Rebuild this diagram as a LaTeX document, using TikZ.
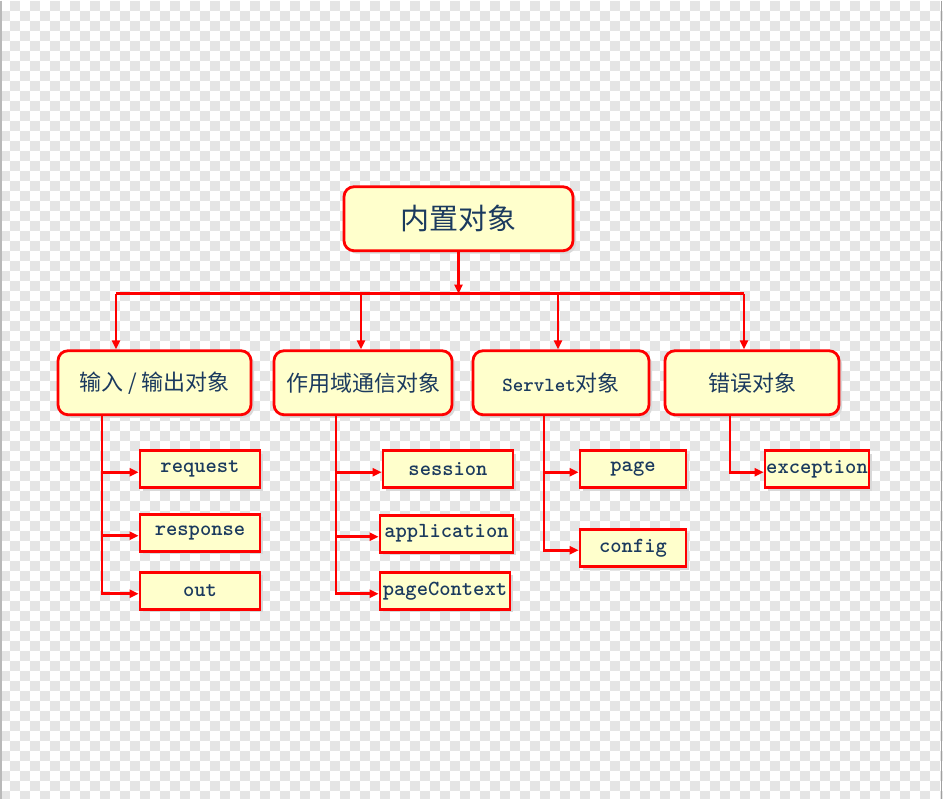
\documentclass[tikz,border=0pt]{standalone}
\usepackage{fontspec}
\newfontfamily\cjk{Noto Sans CJK SC}
\usetikzlibrary{arrows.meta,shadows}
\definecolor{boxfill}{HTML}{FFFFCC}
\definecolor{boxline}{HTML}{FF0000}
\definecolor{ink}{HTML}{1B3A5E}
\definecolor{checker}{HTML}{E5E5E5}

\begin{document}
\begin{tikzpicture}[
    x=1pt, y=-1pt,
    >={Triangle[length=9pt,width=8pt]},
    boxshadow/.style={drop shadow={shadow xshift=3pt, shadow yshift=-3pt, fill=black!15, opacity=1}},
    root/.style={draw=boxline, line width=2.8pt, fill=boxfill, rounded corners=10pt, boxshadow,
                 minimum width=229pt, minimum height=64pt, inner sep=0pt, text=ink,
                 font=\cjk\fontsize{29}{34}\selectfont},
    group/.style={draw=boxline, line width=2.8pt, fill=boxfill, rounded corners=10pt, boxshadow,
                  minimum height=64pt, inner sep=0pt, text=ink,
                  font=\cjk\fontsize{22}{26}\selectfont},
    leaf/.style={draw=boxline, line width=2.8pt, fill=boxfill, boxshadow,
                 minimum height=37pt, inner sep=0pt, text=ink,
                 font=\ttfamily\bfseries\fontsize{21.5}{25}\selectfont},
    wire/.style={draw=boxline, line width=2.6pt},
    link/.style={wire, ->},
    cell/.style={fill=checker, draw=none}
]

% Background
\fill[white] (0,0) rectangle (943,798);
\foreach \yy in {0,20,...,780} {
  \foreach \xx in {10,30,...,930} {\path[cell] (\xx,\yy) rectangle +(10,10);}
}
\foreach \yy in {10,30,...,790} {
  \foreach \xx in {0,20,...,920} {\path[cell] (\xx,\yy) rectangle (\xx+10,{min(\yy+10,798)});}
  \path[cell] (940,\yy) rectangle (943,{min(\yy+10,798)});
}
\draw[gray!55, line width=1.5pt] (0.75,0) -- (0.75,798);
\draw[gray!75, line width=1.5pt] (941.5,0) -- (941.5,798);

% Root and groups
\node[root] (root) at (458.5,218) {内置对象};
\node[group, minimum width=193pt] (inout) at (154.5,382) {输入 / 输出对象};
\node[group, minimum width=178pt] (scope) at (363,382) {作用域通信对象};
\node[group, minimum width=176pt] (servlet) at (561,382) {{\ttfamily\bfseries\fontsize{20}{22}\selectfont Servlet}对象};
\node[group, minimum width=174pt] (error) at (752,382) {错误对象};

% Leaves
\node[leaf, minimum width=120pt] (request) at (200,468.5) {request};
\node[leaf, minimum width=120pt] (response) at (200,532) {response};
\node[leaf, minimum width=120pt] (out) at (200,590) {out};
\node[leaf, minimum width=130pt] (session) at (448,468.5) {session};
\node[leaf, minimum width=133pt] (application) at (446.5,533) {application};
\node[leaf, minimum width=130pt] (pagecontext) at (445,590) {pageContext};
\node[leaf, minimum width=106pt] (page) at (633,468.5) {page};
\node[leaf, minimum width=106pt] (config) at (633,547.5) {config};
\node[leaf, minimum width=104pt] (exception) at (817,468.5) {exception};

% Bar below the root
\coordinate (b1) at (116,293);
\coordinate (b2) at (361,293);
\coordinate (b3) at (558,293);
\coordinate (b4) at (744,293);
\draw[wire] (b1) -- (b4);
\draw[link] (root) -- (root |- b1);
\draw[link] (b1) -- (b1 |- inout.north);
\draw[link] (b2) -- (b2 |- scope.north);
\draw[link] (b3) -- (b3 |- servlet.north);
\draw[link] (b4) -- (b4 |- error.north);

% Trunks to the leaves
\coordinate (ta) at (102,414);
\coordinate (tb) at (336,414);
\coordinate (tc) at (544,414);
\coordinate (td) at (730,414);
\draw[link] (ta) |- ([yshift=-3pt]request.west);
\draw[link] (ta) |- ([yshift=-3pt]response.west);
\draw[link] (ta) |- ([yshift=-3pt]out.west);
\draw[link] (tb) |- ([yshift=-3pt]session.west);
\draw[link] (tb) |- ([yshift=-3pt]application.west);
\draw[link] (tb) |- ([yshift=-3pt]pagecontext.west);
\draw[link] (tc) |- ([yshift=-3pt]page.west);
\draw[link] (tc) |- ([yshift=-2pt]config.west);
\draw[link] (td) |- ([yshift=-3pt]exception.west);

\end{tikzpicture}
\end{document}
